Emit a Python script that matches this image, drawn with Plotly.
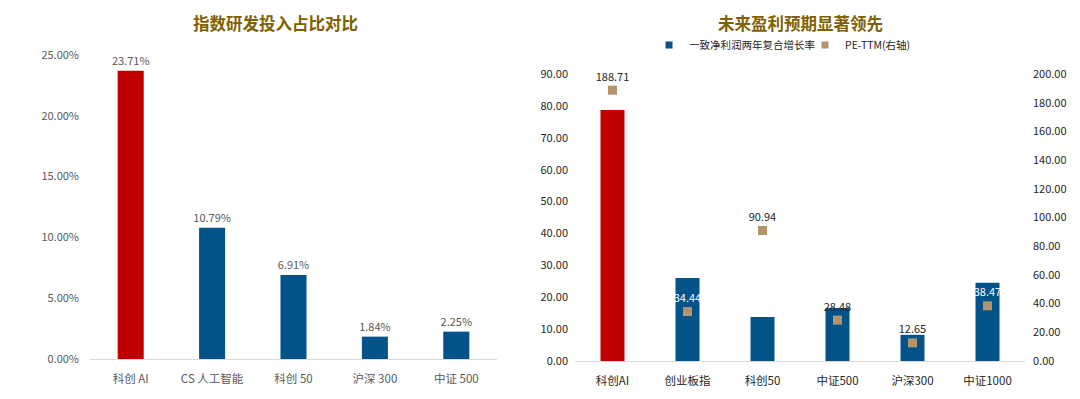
import plotly.graph_objects as go

# Left chart data
rd_categories = ["科创 AI", "CS 人工智能", "科创 50", "沪深 300", "中证 500"]
rd_values = [23.71, 10.79, 6.91, 1.84, 2.25]  # percent

# Right chart data
idx_categories = ["科创AI", "创业板指", "科创50", "中证500", "沪深300", "中证1000"]
growth_values = [78.7, 26.0, 13.8, 16.6, 8.2, 24.5]
pe_values = [188.71, 34.44, 90.94, 28.48, 12.65, 38.47]

RED = "#C00000"
BLUE = "#02538A"
TAN = "#B4946A"
GOLD = "#7F6000"
GRAY = "#595959"
DARK = "#262626"
FONT = "Noto Sans CJK SC"

# the page body has an 8px margin; the figure is sized to fill the rest of the window
OFF = 8
W, H = 1080 - OFF, 399 - OFF
def px_x(v):
    return (v - OFF) / W
def px_y(v):
    return (H - (v - OFF)) / H

fig = go.Figure()

fig.add_trace(go.Bar(
    x=rd_categories, y=[v / 100 for v in rd_values],
    marker=dict(color=[RED] + [BLUE] * 4, line=dict(width=0)),
    width=0.32,
    text=[f"{v:.2f}%" for v in rd_values], textposition="outside",
    constraintext="none",
    textfont=dict(size=11, color=GRAY, family=FONT),
    cliponaxis=False, showlegend=False,
    xaxis="x", yaxis="y",
))

fig.add_trace(go.Bar(
    x=idx_categories, y=growth_values,
    marker=dict(color=[RED] + [BLUE] * 5, line=dict(width=0)),
    width=0.32, showlegend=False,
    xaxis="x2", yaxis="y2",
))

label_colors = [DARK, "#FFFFFF", DARK, DARK, DARK, "#FFFFFF"]
fig.add_trace(go.Scatter(
    x=idx_categories, y=pe_values, mode="markers+text",
    marker=dict(symbol="square", size=9, color=TAN),
    text=[f"{v:.2f}" for v in pe_values], textposition="top center",
    textfont=dict(size=11, color=label_colors, family=FONT),
    showlegend=False, cliponaxis=False,
    xaxis="x2", yaxis="y3",
))

# legend entries
fig.add_trace(go.Scatter(
    x=[None], y=[None], mode="markers",
    marker=dict(symbol="square", size=7, color=BLUE),
    name="一致净利润两年复合增长率", legend="legend",
    xaxis="x2", yaxis="y2",
))
fig.add_trace(go.Scatter(
    x=[None], y=[None], mode="markers",
    marker=dict(symbol="square", size=7, color=TAN),
    name="PE-TTM(右轴)", legend="legend2",
    xaxis="x2", yaxis="y3",
))

tickfont = dict(size=11, color=GRAY, family=FONT)
legfont = dict(size=10.5, color=DARK, family=FONT)

fig.update_layout(
    width=W, height=H,
    margin=dict(l=0, r=0, t=0, b=0),
    paper_bgcolor="white", plot_bgcolor="white",
    font=dict(family=FONT, color=GRAY),
    xaxis=dict(domain=[px_x(90), px_x(497)], showline=True, linecolor="#D9D9D9",
               linewidth=1, ticks="", tickfont=dict(size=11.5, color=GRAY, family=FONT),
               ticklabelstandoff=9,
               showgrid=False, fixedrange=True, automargin=False),
    yaxis=dict(domain=[px_y(359), px_y(55)], range=[0, 0.25], tickformat=".2%",
               dtick=0.05, showgrid=False, zeroline=False, tickfont=tickfont,
               ticklabelstandoff=10, fixedrange=True, automargin=False),
    xaxis2=dict(domain=[px_x(575), px_x(1025)], showline=True, linecolor="#D9D9D9",
                linewidth=1, ticks="", tickfont=dict(size=11.5, color=DARK, family=FONT),
                ticklabelstandoff=9,
                showgrid=False, anchor="y2", fixedrange=True, automargin=False),
    yaxis2=dict(domain=[px_y(361), px_y(74)], range=[0, 90], tickformat=".2f",
                dtick=10, showgrid=False, zeroline=False, anchor="x2",
                tickfont=dict(size=11, color=DARK, family=FONT),
                ticklabelstandoff=6, fixedrange=True, automargin=False),
    yaxis3=dict(overlaying="y2", side="right", range=[0, 200], tickformat=".2f",
                dtick=20, showgrid=False, zeroline=False, anchor="x2",
                tickfont=dict(size=11, color=DARK, family=FONT),
                ticklabelstandoff=7, fixedrange=True, automargin=False),
    legend=dict(orientation="h", x=px_x(649), xanchor="left", y=px_y(45), yanchor="middle",
                font=legfont, itemwidth=30, bgcolor="rgba(0,0,0,0)"),
    legend2=dict(orientation="h", x=px_x(805), xanchor="left", y=px_y(45), yanchor="middle",
                 font=legfont, itemwidth=30, bgcolor="rgba(0,0,0,0)"),
    showlegend=True,
    annotations=[
        dict(text="<b>指数研发投入占比对比</b>", x=px_x(275), y=px_y(9), xref="paper", yref="paper",
             showarrow=False, font=dict(size=16.5, color=GOLD, family=FONT), xanchor="center", yanchor="top"),
        dict(text="<b>未来盈利预期显著领先</b>", x=px_x(800), y=px_y(9), xref="paper", yref="paper",
             showarrow=False, font=dict(size=16.5, color=GOLD, family=FONT), xanchor="center", yanchor="top"),
    ],
)

fig.write_html("out.html")
